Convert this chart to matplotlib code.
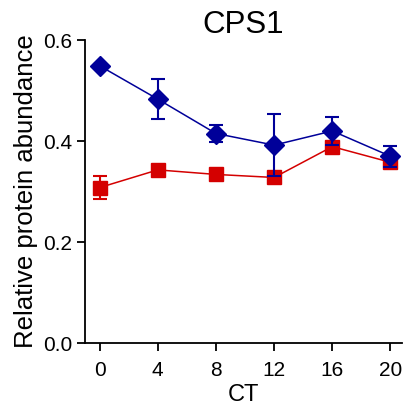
import numpy as np
import matplotlib
matplotlib.use("Agg")
import matplotlib.pyplot as plt

plt.rcParams['font.family'] = ['Liberation Sans', 'DejaVu Sans']

ct = [0, 4, 8, 12, 16, 20]
blue_mean = [0.549, 0.483, 0.415, 0.392, 0.420, 0.370]
blue_sem = [0.004, 0.039, 0.016, 0.062, 0.028, 0.021]
red_mean = [0.308, 0.343, 0.334, 0.328, 0.389, 0.358]
red_sem = [0.023, 0.005, 0.004, 0.004, 0.006, 0.006]

fig = plt.figure(figsize=(4.07, 4.17), dpi=100)
ax = fig.add_axes([0.209, 0.177, 0.779, 0.727])

ax.errorbar(ct, red_mean, yerr=red_sem, color='#d40000', marker='s', markersize=9.5,
            linewidth=1.1, elinewidth=1.5, capsize=5, capthick=1.5, zorder=2)
ax.errorbar(ct, blue_mean, yerr=blue_sem, color='#000099', marker='D', markersize=10,
            linewidth=1.1, elinewidth=1.5, capsize=5, capthick=1.5, zorder=3)

ax.set_xlim(-1, 20.8)
ax.set_ylim(0, 0.6)
ax.set_xticks(ct)
ax.set_yticks([0.0, 0.2, 0.4, 0.6])
ax.set_yticklabels(['0.0', '0.2', '0.4', '0.6'])
ax.spines['top'].set_visible(False)
ax.spines['right'].set_visible(False)
for s in ['left', 'bottom']:
    ax.spines[s].set_linewidth(1.3)
ax.tick_params(direction='out', length=6, width=1.3, labelsize=15, pad=3)
ax.tick_params(axis='x', pad=7)
ax.set_xlabel('CT', fontsize=17, labelpad=3)
ax.set_ylabel('Relative protein abundance', fontsize=18.5, labelpad=4)
ax.set_title('CPS1', fontsize=22.5, pad=4)

fig.savefig('out.png', dpi=100)
